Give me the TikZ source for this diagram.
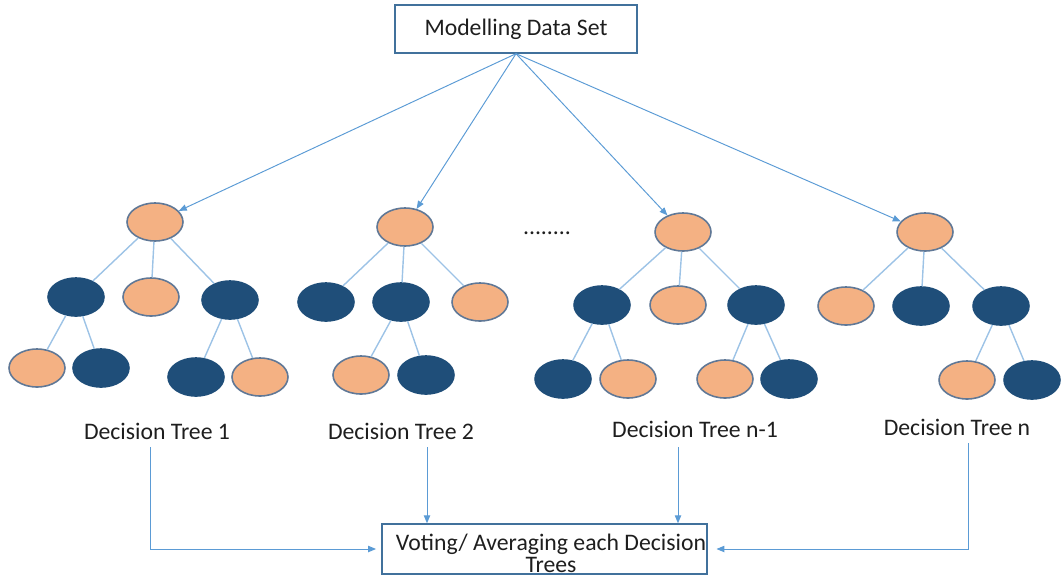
\documentclass[tikz,border=0pt]{standalone}
\usepackage{fontspec}
\setmainfont{Carlito}
\usepackage{tikz}
\usetikzlibrary{arrows.meta, positioning, calc, shapes.geometric}
\definecolor{rfpeach}{RGB}{244,177,131}
\definecolor{rfnavy}{RGB}{31,78,121}
\definecolor{rfrim}{RGB}{96,120,150}
\definecolor{rfbranch}{RGB}{157,195,230}
\definecolor{rfarrow}{RGB}{91,155,213}
\definecolor{rfbox}{RGB}{65,113,156}
\definecolor{rfdark}{RGB}{30,30,30}

\begin{document}
\begin{tikzpicture}[x=0.02cm, y=-0.02cm,
  leafo/.style={ellipse, draw=rfrim, line width=0.9pt, fill=rfpeach,
    minimum width=1.12cm, minimum height=0.76cm, inner sep=0},
  leafd/.style={ellipse, draw=rfnavy, line width=0.9pt, fill=rfnavy,
    minimum width=1.12cm, minimum height=0.76cm, inner sep=0},
  branch/.style={draw=rfbranch, line width=0.8pt},
  flow/.style={draw=rfarrow, line width=0.55pt, -{Triangle[length=4.5pt,width=3.6pt]}},
  box/.style={draw=rfbox, line width=0.8pt, rectangle, inner sep=0},
  lbl/.style={text=rfdark, font=\fontsize{13.5}{16}\selectfont}]
\useasboundingbox (0,0) rectangle (1061,575);

% source data
\node[box, lbl, minimum width=4.84cm, minimum height=0.96cm] (data) at (516,29)
  {Modelling Data Set};

% ---- the four trees ----
\foreach \n/\x/\y/\s in {
    t1/155/222/leafo, t1a/76/297/leafd, t1b/151/297/leafo, t1c/230/300/leafd,
    t1aa/37/368/leafo, t1ab/101/368/leafd, t1ca/196/377/leafd, t1cb/260/377/leafo,
    t2/405/227/leafo, t2a/326/302/leafd, t2b/401/302/leafd, t2c/480/302/leafo,
    t2ba/361/375/leafo, t2bb/426/375/leafd,
    t3/683/232/leafo, t3a/602/305/leafd, t3b/678/305/leafo, t3c/756/305/leafd,
    t3aa/563/379/leafd, t3ab/628/379/leafo, t3ca/725/379/leafo, t3cb/789/379/leafd,
    t4/925/232/leafo, t4a/846/306/leafo, t4b/921/306/leafd, t4c/1001/306/leafd,
    t4ca/967/380/leafo, t4cb/1032/380/leafd}{
  \node[\s] (\n) at (\x,\y) {};
}

\foreach \p/\c in {t1/t1a, t1/t1b, t1/t1c, t1a/t1aa, t1a/t1ab, t1c/t1ca, t1c/t1cb,
    t2/t2a, t2/t2b, t2/t2c, t2b/t2ba, t2b/t2bb,
    t3/t3a, t3/t3b, t3/t3c, t3a/t3aa, t3a/t3ab, t3c/t3ca, t3c/t3cb,
    t4/t4a, t4/t4b, t4/t4c, t4c/t4ca, t4c/t4cb}{
  \draw[branch] (\p) -- (\c);
}

\foreach \r in {t1,t2,t3,t4}{
  \draw[flow] (data.south) -- (\r);
}

\node[lbl] (dots) at (547,233) {........};

% tree captions
\node[lbl, anchor=base] (dt1) at (157,439) {Decision Tree 1};
\node[lbl, anchor=base] (dt2) at (401,439) {Decision Tree 2};
\node[lbl, anchor=base] (dt3) at (695,437) {Decision Tree n-1};
\node[lbl, anchor=base] (dt4) at (957,435) {Decision Tree n};

% ---- aggregation ----
\node[box, minimum width=6.5cm, minimum height=1.0cm] (vote) at (544.5,549) {};
\node[lbl, align=center, font=\fontsize{13.5}{12.5}\selectfont] (votetxt) at (551,553)
  {Voting/ Averaging each Decision\\Trees};

\coordinate (d1) at (150,447);
\coordinate (d2) at (427,447);
\coordinate (d3) at (678,447);
\coordinate (d4) at (968,443);
\draw[flow, shorten >=3pt] (d1) |- (vote.west);
\draw[flow] (d2) -- (d2 |- vote.north);
\draw[flow] (d3) -- (d3 |- vote.north);
\draw[flow, shorten >=5pt] (d4) |- (vote.east);
\end{tikzpicture}
\end{document}
